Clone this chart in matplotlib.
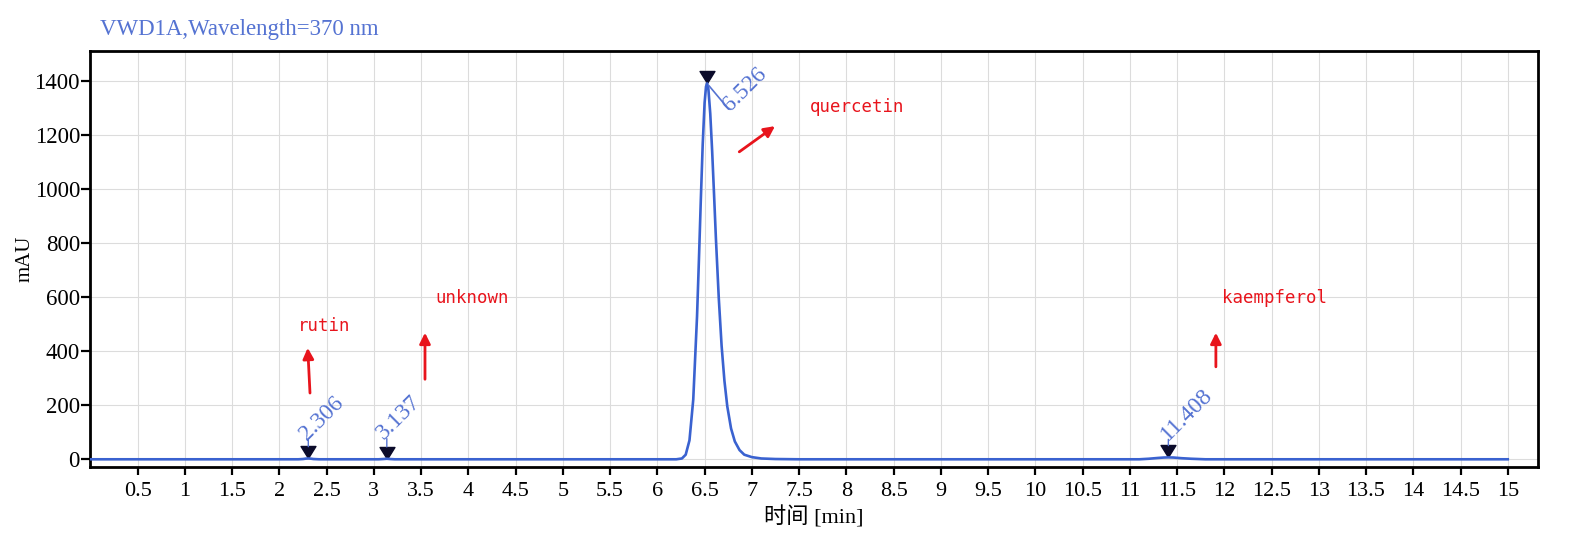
import matplotlib
matplotlib.use('Agg')
import matplotlib.pyplot as plt

# ---------------- data ----------------
time_min = [0.00, 2.20, 2.25, 2.28, 2.306, 2.33, 2.36, 2.42,
            3.05, 3.10, 3.137, 3.17, 3.22,
            6.20, 6.26, 6.30, 6.34, 6.38, 6.42, 6.44, 6.46, 6.48, 6.50, 6.515, 6.526,
            6.54, 6.56, 6.58, 6.60, 6.62, 6.65, 6.68, 6.71, 6.74, 6.78, 6.82, 6.87,
            6.92, 7.00, 7.10, 7.25, 7.50,
            11.10, 11.20, 11.30, 11.36, 11.408, 11.46, 11.55, 11.65, 11.80, 15.00]
signal_mau = [0, 0, 1, 2.5, 3, 2.5, 1, 0,
              0, 1, 2, 1, 0,
              0, 3, 17, 70, 221, 528, 737, 959, 1164, 1318, 1378, 1390,
              1370, 1278, 1140, 980, 815, 597, 420, 290, 196, 114, 66, 34,
              17, 8, 3, 1, 0,
              0, 2, 5, 6.5, 7, 6.5, 4, 2, 0, 0]

peak_rt = [2.306, 3.137, 6.526, 11.408]
peak_mau = [3, 2, 1390, 7]
peak_labels = ['2.306', '3.137', '6.526', '11.408']

compounds = ['rutin', 'unknown', 'quercetin', 'kaempferol']

x_ticks = [0.5, 1, 1.5, 2, 2.5, 3, 3.5, 4, 4.5, 5, 5.5, 6, 6.5, 7, 7.5,
           8, 8.5, 9, 9.5, 10, 10.5, 11, 11.5, 12, 12.5, 13, 13.5, 14, 14.5, 15]
x_tick_labels = ['0.5', '1', '1.5', '2', '2.5', '3', '3.5', '4', '4.5', '5', '5.5',
                 '6', '6.5', '7', '7.5', '8', '8.5', '9', '9.5', '10', '10.5', '11',
                 '11.5', '12', '12.5', '13', '13.5', '14', '14.5', '15']
y_ticks = [0, 200, 400, 600, 800, 1000, 1200, 1400]

# ---------------- layout ----------------
compound_text_pos = [(2.197, 493), (3.647, 596), (7.615, 1303), (11.975, 596)]
arrow_tails = [(2.324, 245), (3.541, 296), (6.867, 1137), (11.911, 342)]
arrow_heads = [(2.300, 412), (3.541, 468), (7.245, 1232), (11.911, 468)]
# label offsets (points) from the peak apex
label_offsets = [(-1.0, 12.5), (-1.8, 13.5), (16.5, -20.5), (-0.5, 12.0)]

line_blue = '#3a62d0'
label_blue = '#5573d2'
serif = ['Liberation Serif', 'Noto Sans CJK SC']

W, H = 1569, 536
fig = plt.figure(figsize=(W / 100, H / 100), dpi=100)
fig.patch.set_facecolor('white')
ax = fig.add_axes([90.4 / W, 1 - 466.7 / H, (1538 - 90.4) / W, (466.7 - 50.7) / H])

ax.set_xlim(0, 15.32)
ax.set_ylim(-27.4, 1511)

ax.grid(True, color='#dcdcdc', lw=0.8)
ax.set_axisbelow(True)

ax.set_xticks(x_ticks)
ax.set_xticklabels(x_tick_labels, family=serif, fontsize=16)
ax.set_yticks(y_ticks)
ax.set_yticklabels([str(v) for v in y_ticks], family=serif, fontsize=16.5)
ax.tick_params(axis='x', length=6, width=1.6, direction='out', pad=5, colors='black')
ax.tick_params(axis='y', length=6.5, width=1.6, direction='out', pad=1, colors='black')
for sp in ax.spines.values():
    sp.set_linewidth(2.0)
    sp.set_color('black')

# peak markers (tip at apex)
tri = [(0, 0), (-0.62, 1.0), (0.62, 1.0), (0, 0)]
ax.plot(peak_rt, peak_mau, linestyle='none', marker=tri, markersize=17.3,
        color='#0b0b2a', zorder=3)

# chromatogram trace
ax.plot(time_min, signal_mau, color=line_blue, lw=1.9, zorder=4,
        solid_joinstyle='round')

# retention-time labels with connector strokes
for t, h, lab, (dx, dy) in zip(peak_rt, peak_mau, peak_labels, label_offsets):
    if dy > 0:
        ax.annotate('', xy=(t, h), xycoords='data', xytext=(0, dy + 1),
                    textcoords='offset points',
                    arrowprops=dict(arrowstyle='-', color=label_blue, lw=1.0,
                                    shrinkA=0, shrinkB=8.5), zorder=5)
    else:
        ax.annotate('', xy=(t, h), xycoords='data', xytext=(dx - 1, dy + 2),
                    textcoords='offset points',
                    arrowprops=dict(arrowstyle='-', color=label_blue, lw=1.2,
                                    shrinkA=0, shrinkB=2), zorder=5)
    ax.annotate(lab, xy=(t, h), xycoords='data', xytext=(dx, dy),
                textcoords='offset points', rotation=45, rotation_mode='anchor',
                ha='left', va='baseline', color=label_blue, family=serif,
                fontsize=17, zorder=5)

# compound names and arrows
for name, (tx, ty), tail, head in zip(compounds, compound_text_pos, arrow_tails, arrow_heads):
    ax.text(tx, ty, name, color='#e8141c', family='DejaVu Sans Mono',
            fontsize=12.5, ha='left', va='center', zorder=5)
    ax.annotate('', xy=head, xytext=tail, xycoords='data', textcoords='data',
                arrowprops=dict(arrowstyle='-|>', color='#e8141c', lw=2.0,
                                mutation_scale=16, shrinkA=0, shrinkB=0),
                zorder=5)

ax.set_xlabel('时间 [min]', family=serif, fontsize=16, labelpad=4)
ax.set_ylabel('mAU', family=serif, fontsize=15, labelpad=0)

fig.text(100 / W, 1 - 29 / H, 'VWD1A,Wavelength=370 nm', color=label_blue,
         family=serif, fontsize=16.5, ha='left', va='center')

fig.savefig('out.png', dpi=100, facecolor='white')
